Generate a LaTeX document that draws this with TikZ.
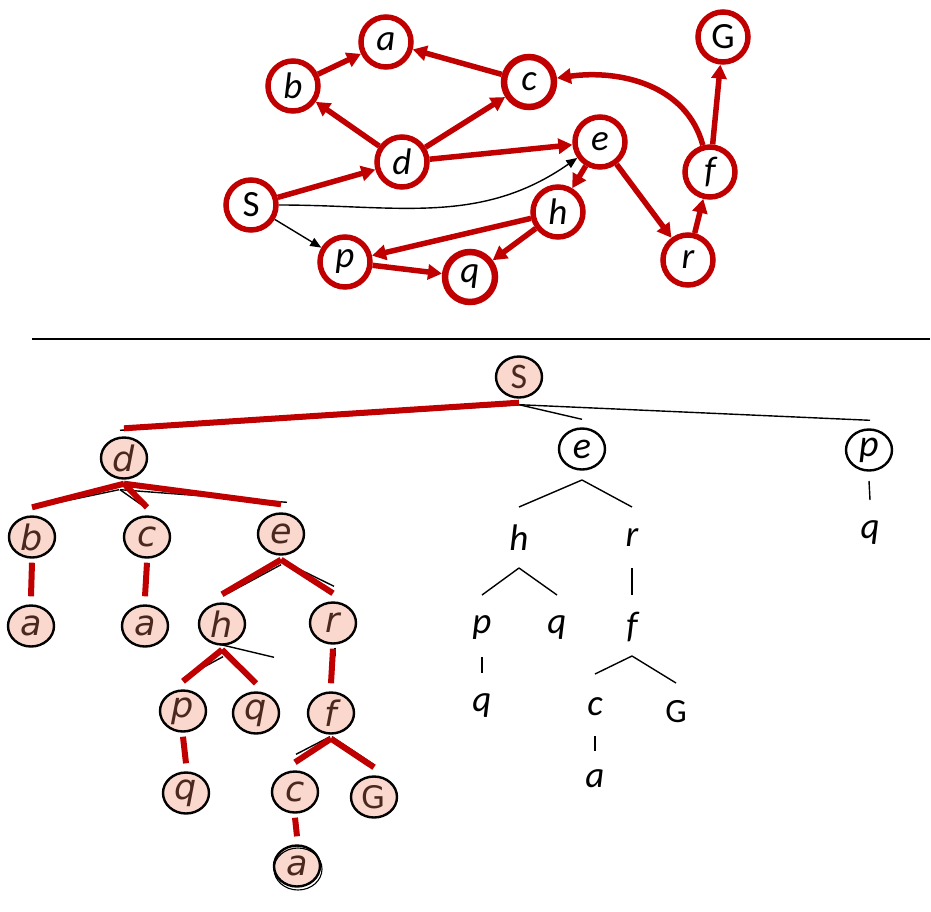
\documentclass[tikz,border=0pt]{standalone}
\usepackage{fontspec}
\setmainfont{Carlito}
\newfontfamily\treefont{DejaVu Sans}
\usepackage{tikz}
\usetikzlibrary{shapes.geometric,arrows.meta}
\definecolor{pptred}{RGB}{192,0,0}
\definecolor{peach}{RGB}{251,216,205}
\definecolor{darkbrown}{RGB}{75,40,30}

\begin{document}
\begin{tikzpicture}[x=1pt, y=-1pt,
    gnode/.style={circle, draw=pptred, line width=5.5pt, minimum size=50pt, inner sep=0pt, font=\fontsize{37}{37}\selectfont\itshape},
    gedge/.style={draw=pptred, line width=5.5pt, -{Triangle[length=14pt,width=15pt]}},
    bedge/.style={draw=black, line width=1.4pt, -{Triangle[length=11pt,width=9pt]}},
    tnode/.style={ellipse, draw=black, line width=2.4pt, fill=peach, minimum width=46pt, minimum height=41pt, inner sep=0pt, text=darkbrown, font=\treefont\fontsize{35}{35}\selectfont\itshape},
    onode/.style={tnode, fill=white, text=black, font=\fontsize{38}{38}\selectfont\itshape},
    tlabel/.style={inner sep=0pt, font=\fontsize{37}{37}\selectfont\itshape},
    redtree/.style={draw=pptred, line width=6pt},
    blacktree/.style={draw=black, line width=1.4pt}]
\useasboundingbox (0,0) rectangle (931,912);

% graph
\node[gnode] (a) at (386,42) {a};
\node[gnode] (b) at (293,86) {b};
\node[gnode, line width=6.5pt] (c) at (529,82) {c};
\node[gnode] (G) at (723,37) {\upshape G};
\node[gnode] (d) at (402,162) {d};
\node[gnode] (e) at (600,142) {e};
\node[gnode] (f) at (710,172) {f};
\node[gnode] (S) at (251,205) {\upshape S};
\node[gnode] (h) at (558,212) {h};
\node[gnode] (p) at (345,262) {p};
\node[gnode, line width=6.5pt] (q) at (470,277) {q};
\node[gnode] (r) at (688,260) {r};

\foreach \u/\v in {b/a, c/a, d/b, d/c, d/e, S/d, e/h, e/r, h/p, h/q, p/q, r/f, f/G}
  \draw[gedge] (\u) -- (\v);
\draw[gedge] (f) to[out=105,in=8] (c);
\draw[bedge] (S) to[out=0,in=215] (e);
\draw[bedge] (S) -- (p);

\draw[line width=1.3pt] (32,339) -- (930,339);

% search tree
\node[tnode] (tS) at (519,377) {\normalfont\fontsize{36}{36}\selectfont S};
\node[tnode] (td) at (124,458) {d};
\node[tnode] (tb) at (32,537) {b};
\node[tnode] (tc) at (147,537) {c};
\node[tnode] (te) at (281,534) {e};
\node[tnode] (ta1) at (31,626) {a};
\node[tnode] (ta2) at (145,626) {a};
\node[tnode] (th) at (222,624) {h};
\node[tnode] (tr) at (333,623) {r};
\node[tnode] (tp) at (183,711) {p};
\node[tnode] (tq1) at (256,713) {q};
\node[tnode] (tf) at (331,713) {f};
\node[tnode] (tq2) at (186,793) {q};
\node[tnode] (tc2) at (295,792) {c};
\node[tnode] (tG) at (374,797) {\upshape\fontsize{31}{31}\selectfont G};
\node[tnode] (ta3) at (297,866) {a};
\draw[line width=1.1pt] ([xshift=1pt,yshift=-3pt]ta3.center) ellipse [x radius=24, y radius=21];

\node[onode] (re) at (582,449) {e};
\node[onode] (rp) at (869,450) {p};
\node[tlabel] (rh) at (519,538) {h};
\node[tlabel] (rr) at (632,538) {r};
\node[tlabel] (rp1) at (482,628) {p};
\node[tlabel] (rq1) at (557,628) {q};
\node[tlabel] (rf) at (632,627) {f};
\node[tlabel] (rq2) at (482,706) {q};
\node[tlabel] (rc) at (595,707) {c};
\node[tlabel, font=\fontsize{34}{34}\selectfont] (rG) at (676,712) {G};
\node[tlabel] (ra) at (595,779) {a};
\node[tlabel] (rq3) at (870,533) {q};

\foreach \u/\v/\sx/\sy/\ex/\ey in {tS/td/0/-6/-4/6, tS/re/0/-6/0/8, tS/rp/0/-6/1/8,
    td/tb/-5/-10/8/9, td/tc/-4/-10/-2/8, td/te/-4/-10/6/10,
    te/th/0/-9/6/9, te/tr/3/-6/1/15, th/tp/1/-11/0/11, th/tq1/-5/2/18/34,
    tr/tf/2/-3/4/35, tf/tc2/-1/-2/1/16, tf/tG/1/-2/1/10}
  \draw[blacktree] ([xshift=\sx pt, yshift=\sy pt]\u.south) -- ([xshift=\ex pt, yshift=\ey pt]\v.north);
\foreach \u/\v in {tS/td, td/tb, td/tc, td/te, tb/ta1, tc/ta2, te/th, te/tr,
    th/tp, th/tq1, tr/tf, tp/tq2, tf/tc2, tf/tG, tc2/ta3}
  \draw[redtree] ([yshift=-4pt]\u.south) -- ([yshift=8pt]\v.north);
\foreach \u/\v/\d/\e in {re/rh/31/31, re/rr/31/31, rh/rp1/30/33, rh/rq1/30/33,
    rr/rf/30/32, rp1/rq2/29/33, rf/rc/29/33, rf/rG/29/29, rc/ra/29/28, rp/rq3/31/33}
  \draw[blacktree] ([yshift=-\d pt]\u.center) -- ([yshift=\e pt]\v.center);
\end{tikzpicture}
\end{document}
